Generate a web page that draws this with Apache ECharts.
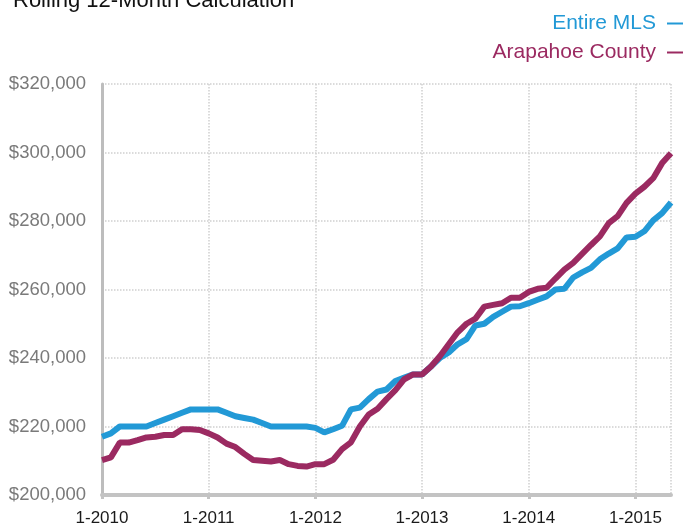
<!DOCTYPE html>
<html>
<head>
<meta charset="utf-8">
<script src="https://cdn.jsdelivr.net/npm/echarts@6/dist/echarts.min.js"></script>
<style>
  html, body { margin: 0; padding: 0; background: #fff; }
  #main { width: 691px; height: 527px; }
</style>
</head>
<body>
<div id="main"></div>
<script>
// years on the x axis, one category per month from 1-2010 to 5-2015
var years = [2010, 2011, 2012, 2013, 2014, 2015];
var lastMonth = 5;

// rolling 12 month median price, thousands of dollars
var entireMls = [
    217, 218, 220, 220, 220, 220, 221, 222, 223, 224, 225, 225,
    225, 225, 224, 223, 222.5, 222, 221, 220, 220, 220, 220, 220,
    219.6, 218.3, 219.2, 220.2, 225, 225.5, 228, 230.2, 230.8, 233.3, 234.3, 235.2,
    235.2, 237.5, 240, 241.6, 244, 245.5, 249.5, 250, 252, 253.5, 255, 255.1,
    256, 257, 258, 260, 260.2, 263.5, 265, 266.3, 268.8, 270.5, 272, 275.2,
    275.4, 277, 280.2, 282.3, 285.4
];
var arapahoe = [
    210.2, 211, 215.3, 215.3, 216, 216.8, 217, 217.5, 217.5, 219.2, 219.2, 219,
    218, 216.8, 215, 214, 212, 210.2, 210, 209.8, 210.2, 209, 208.5, 208.3,
    209, 209, 210.3, 213.4, 215.4, 220, 223.5, 225.2, 228, 230.6, 233.8, 235.2,
    235.2, 237.5, 240.5, 244, 247.5, 250, 251.5, 255, 255.5, 256, 257.6, 257.6,
    259.3, 260.2, 260.5, 263.2, 265.8, 267.8, 270.4, 273, 275.5, 279.4, 281.4, 285.3,
    288, 290, 292.5, 296.9, 299.8
];

var months = [];
years.forEach(function (y) {
    var n = (y === years[years.length - 1]) ? lastMonth : 12;
    for (var m = 1; m <= n; m++) months.push(m + '-' + y);
});
var lastIdx = months.length - 1;

var chart = echarts.init(document.getElementById('main'));
var option = {
    animation: false,
    textStyle: { fontFamily: 'Liberation Sans, Arial, sans-serif' },
    title: {
        text: 'Rolling 12-Month Calculation',
        left: 8,
        top: -15,
        textStyle: { fontSize: 22, fontWeight: 'normal', color: '#111' }
    },
    legend: {
        orient: 'vertical',
        right: 3,
        top: 8,
        align: 'right',
        itemGap: 8,
        icon: 'rect',
        itemWidth: 16,
        itemHeight: 2,
        textStyle: { fontSize: 21, padding: [0, 6, 0, 0] },
        data: [
            { name: 'Entire MLS', textStyle: { color: '#2299d6' } },
            { name: 'Arapahoe County', textStyle: { color: '#9b2a61' } }
        ]
    },
    grid: { left: 102, right: 20, top: 84, bottom: 32 },
    xAxis: {
        type: 'category',
        boundaryGap: false,
        data: months,
        axisLine: { lineStyle: { color: '#c3c3c3', width: 4 } },
        axisTick: {
            interval: function (i) { return i % 12 === 0; },
            length: 4,
            lineStyle: { color: '#c3c3c3', width: 3 }
        },
        axisLabel: {
            interval: function (i) { return i % 12 === 0; },
            fontSize: 17,
            color: '#1a1a1a',
            margin: 15
        },
        splitLine: {
            show: true,
            interval: function (i) { return i % 12 === 0 || i === lastIdx; },
            lineStyle: { color: '#cfcfcf', type: 'dotted', width: 1.5 }
        }
    },
    yAxis: {
        type: 'value',
        min: 200,
        max: 320,
        interval: 20,
        axisLine: { show: true, lineStyle: { color: '#bdbdbd', width: 3 } },
        axisTick: { show: false },
        axisLabel: {
            fontSize: 18.5,
            color: '#7a7a7a',
            margin: 16,
            formatter: function (v) { return '$' + v + ',000'; }
        },
        splitLine: { lineStyle: { color: '#cfcfcf', type: 'dotted', width: 1.5 } }
    },
    series: [
        {
            name: 'Entire MLS',
            type: 'line',
            data: entireMls,
            symbol: 'none',
            color: '#2299d6',
            lineStyle: { width: 6, color: '#2299d6' },
            z: 3
        },
        {
            name: 'Arapahoe County',
            type: 'line',
            data: arapahoe,
            symbol: 'none',
            color: '#9b2a61',
            lineStyle: { width: 6, color: '#9b2a61' },
            z: 4
        }
    ]
};
chart.setOption(option);
</script>
</body>
</html>
